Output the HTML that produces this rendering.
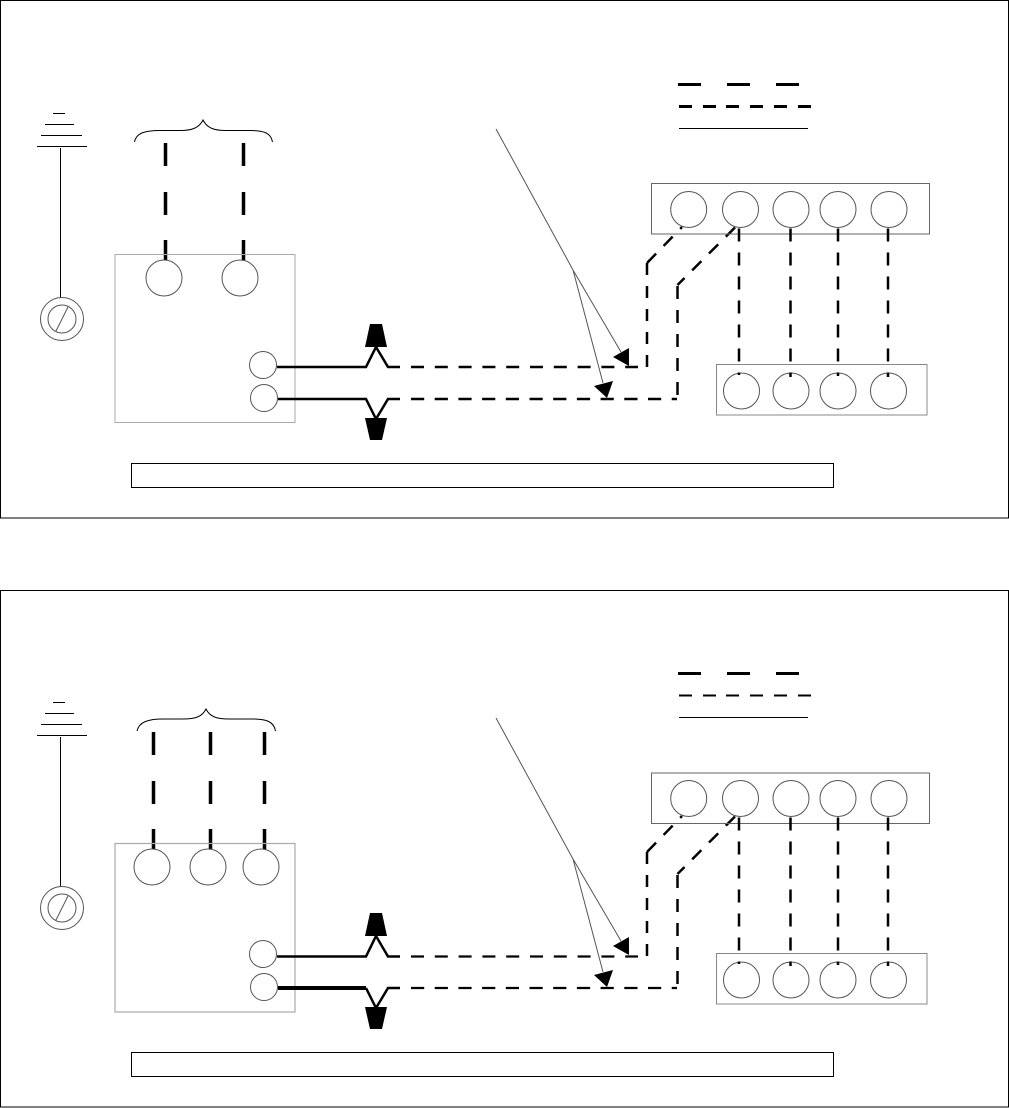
<!DOCTYPE html>
<html>
<head>
<meta charset="utf-8">
<style>
html,body{margin:0;padding:0;background:#fff;width:1009px;height:1108px;overflow:hidden}
svg{display:block}
.k{fill:none;stroke:#000}
.c{fill:#fff;stroke:#555;stroke-width:1}
.t{fill:none;stroke:#555;stroke-width:1}
</style>
</head>
<body>
<svg width="1009" height="1108" viewBox="0 0 1009 1108" xmlns="http://www.w3.org/2000/svg">
<rect x="0.5" y="0.5" width="1008" height="517.5" class="k"/>
<rect x="0.5" y="590.5" width="1008" height="516.5" class="k"/>

<!-- PANEL 1 -->
<g>
<path class="k" stroke-width="1" d="M53 113.5H65M45 124.5H74M41 135.5H82M37 146.5H87M60.5 148V298"/>
<circle class="t" cx="62" cy="319" r="21.5"/><circle class="t" cx="62" cy="319" r="14"/>
<path class="t" d="M56 331L68 307"/>
<path class="k" stroke-width="1" d="M134.5 142C136 133 145 130.5 160 130.5H180C192 130.5 199 128 203 120C207 128 214 130.5 226 130.5H250C264 130.5 271 133 272.5 142"/>
<path class="k" stroke-width="3.5" d="M165.5 143V166M165.5 192V215M165.5 240V261M243.500 143V166M243.500 192V215M243.500 240V261"/>
<rect x="115" y="254.5" width="180" height="168" fill="none" stroke="#aaa" stroke-width="1"/>
<circle class="c" cx="164" cy="278" r="18"/><circle class="c" cx="240" cy="278" r="18"/>
<circle class="c" cx="263" cy="365" r="13.5"/><circle class="c" cx="264" cy="398" r="13.5"/>
<path class="k" stroke-width="2.5" d="M277 367H366L376 347L388 367H400"/>
<path class="k" stroke-width="2.5" d="M278 399H366L376 419L388 399H400"/>
<path class="k" stroke-width="2.5" stroke-dasharray="13 10.8" d="M411 367H638"/>
<path class="k" stroke-width="2.5" stroke-dasharray="13.2 10.5" d="M411 399H677"/>
<path class="k" stroke-width="2.5" stroke-dasharray="13 11" d="M677.500 395V285"/>
<path class="k" stroke-width="2.5" stroke-dasharray="13 10.8" d="M735 227.500L677.500 285"/>
<path class="k" stroke-width="2.5" stroke-dasharray="12 11" d="M647 367V263"/>
<path class="k" stroke-width="2.5" stroke-dasharray="13 10.8" d="M647 263L682 227"/>
<polygon points="370,324 382,324 387,347 365,347" fill="#000"/>
<polygon points="365,418 387,418 382,440 370,440" fill="#000"/>
<path class="t" d="M496 129L573 270L621 352M573 270L603 383"/>
<polygon points="629,348 613,357 629,366" fill="#000"/>
<polygon points="613,381 594,386 607,398" fill="#000"/>
<path class="k" stroke-width="3" d="M678 84.5H701M727 84.5H750M776 84.5H799M679 106.5H692M703 106.5H716M726 106.5H739M750 106.5H763M774 106.5H787M798 106.5H811"/>
<path class="k" stroke-width="1" d="M679 128.5H808"/>
<rect x="651.5" y="183.5" width="278" height="50.5" fill="none" stroke="#666" stroke-width="1"/>
<rect x="716.5" y="364.5" width="210.5" height="50.5" fill="none" stroke="#888" stroke-width="1"/>
<circle class="c" cx="688.7" cy="209.5" r="18"/><circle class="c" cx="740.5" cy="209.5" r="18"/><circle class="c" cx="791" cy="209.5" r="18"/><circle class="c" cx="838" cy="209.5" r="18"/><circle class="c" cx="889" cy="209.5" r="18"/>
<circle class="c" cx="741.5" cy="391" r="18"/><circle class="c" cx="791" cy="391" r="18"/><circle class="c" cx="838" cy="391" r="18"/><circle class="c" cx="888.5" cy="391" r="18"/>
<path class="k" stroke-width="2.5" stroke-dasharray="13 11" d="M739 228.500V375M790.500 228.500V377M838 228.500V376M888 228.500V377"/>
<rect x="131.5" y="463.5" width="702" height="24" class="k" stroke-width="1"/>
</g>

<!-- PANEL 2 -->
<g transform="translate(0,589)">
<path class="k" stroke-width="1" d="M53 113.5H65M45 124.5H74M41 135.5H82M37 146.5H87M60.5 148V298"/>
<circle class="t" cx="62" cy="319" r="21.5"/><circle class="t" cx="62" cy="319" r="14"/>
<path class="t" d="M56 331L68 307"/>
<path class="k" stroke-width="1" d="M137 142C139 133 148 130 163 130H183C195 130 202 128 206 120C210 128 217 130 229 130H253C267 130 274 133 275.5 142"/>
<path class="k" stroke-width="3.5" d="M153.5 143V166M153.5 192V215M153.5 240V261M210.5 143V166M210.5 192V215M210.5 240V261M264.5 143V166M264.5 192V215M264.5 240V261"/>
<rect x="115" y="254.5" width="180" height="168.5" fill="none" stroke="#aaa" stroke-width="1.2"/>
<circle class="c" cx="152" cy="278" r="18"/><circle class="c" cx="208" cy="278" r="18"/><circle class="c" cx="261" cy="278" r="18"/>
<circle class="c" cx="263" cy="365" r="13.5"/><circle class="c" cx="264" cy="398" r="13.5"/>
<path class="k" stroke-width="2.5" d="M277 367.5H366L376 347L388 367.5H400"/>
<path class="k" stroke-width="4" d="M278 399H366"/>
<path class="k" stroke-width="2.5" d="M366 399L376 419L388 399H400"/>
<path class="k" stroke-width="2.2" stroke-dasharray="13 10.8" d="M411 367.5H638"/>
<path class="k" stroke-width="2.2" stroke-dasharray="13.2 10.5" d="M411 399H677"/>
<path class="k" stroke-width="2.5" stroke-dasharray="13 11" d="M677.500 395V285"/>
<path class="k" stroke-width="2.5" stroke-dasharray="13 10.8" d="M735 227.500L677.500 285"/>
<path class="k" stroke-width="2.5" stroke-dasharray="12 11" d="M647 367V263"/>
<path class="k" stroke-width="2.5" stroke-dasharray="13 10.8" d="M647 263L682 227"/>
<polygon points="370,324 382,324 387,347 365,347" fill="#000"/>
<polygon points="365,418 387,418 382,440 370,440" fill="#000"/>
<path class="t" d="M496 129L573 270L621 352M573 270L603 383"/>
<polygon points="629,348 613,357 629,366" fill="#000"/>
<polygon points="613,381 594,386 607,398" fill="#000"/>
<path class="k" stroke-width="3" d="M678 84.5H701M727 84.5H750M776 84.5H799"/>
<path class="k" stroke-width="2" d="M679 106.5H692M703 106.5H716M726 106.5H739M750 106.5H763M774 106.5H787M798 106.5H811"/>
<path class="k" stroke-width="1" d="M679 128.5H808"/>
<rect x="651.5" y="184" width="278" height="50.5" fill="none" stroke="#666" stroke-width="1"/>
<rect x="716.5" y="364.5" width="210.5" height="50.5" fill="none" stroke="#888" stroke-width="1"/>
<circle class="c" cx="688.7" cy="209.5" r="18"/><circle class="c" cx="740.5" cy="209.5" r="18"/><circle class="c" cx="791" cy="209.5" r="18"/><circle class="c" cx="838" cy="209.5" r="18"/><circle class="c" cx="889" cy="209.5" r="18"/>
<circle class="c" cx="741.5" cy="391" r="18"/><circle class="c" cx="791" cy="391" r="18"/><circle class="c" cx="838" cy="391" r="18"/><circle class="c" cx="888.5" cy="391" r="18"/>
<path class="k" stroke-width="2.5" stroke-dasharray="13 11" d="M739 228.500V375M790.500 228.500V377M838 228.500V376M888 228.500V377"/>
<rect x="131.5" y="463.5" width="702" height="24" class="k" stroke-width="1"/>
</g>
</svg>
</body>
</html>
